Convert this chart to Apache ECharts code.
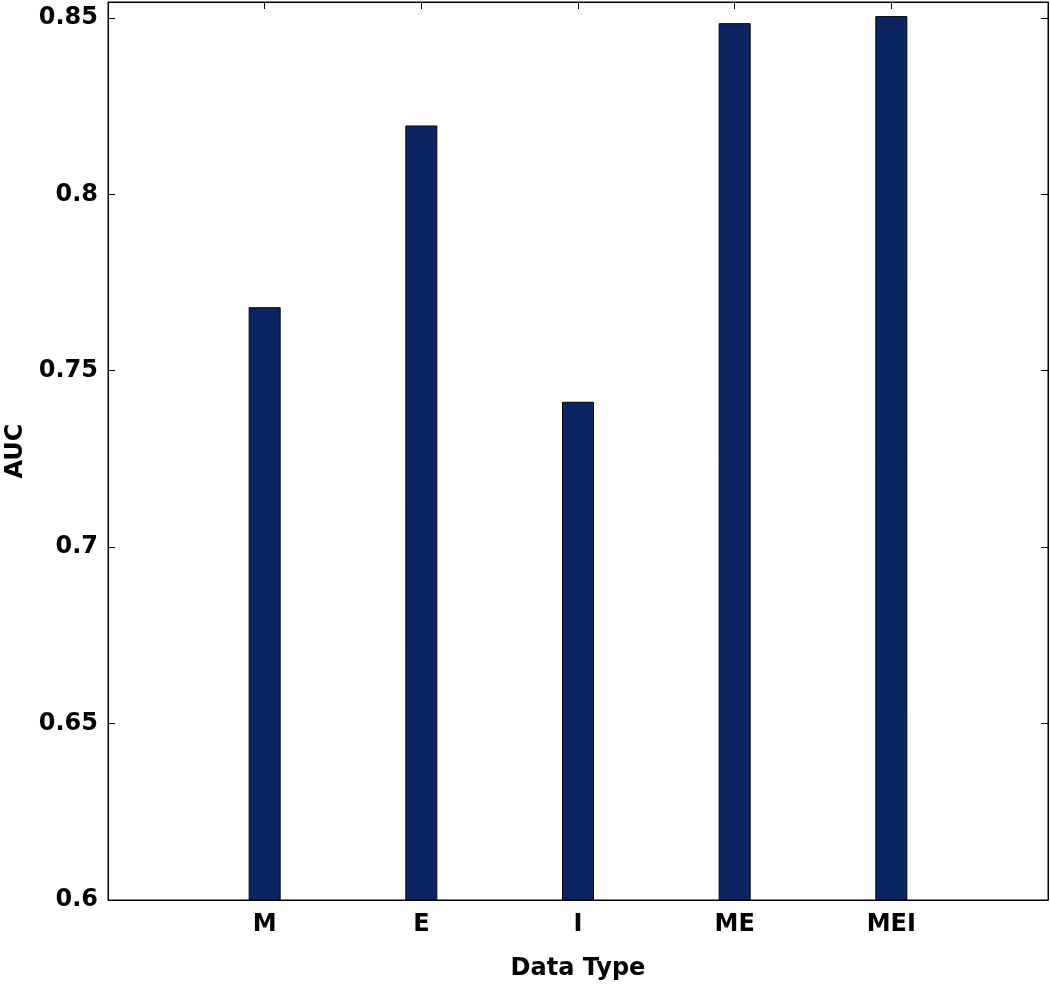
<!DOCTYPE html>
<html>
<head>
<meta charset="utf-8">
<script src="https://cdn.jsdelivr.net/npm/echarts@6/dist/echarts.min.js"></script>
<style>html,body{margin:0;padding:0;background:#fff;}#c{width:1050px;height:988px;}</style>
</head>
<body>
<div id="c"></div>
<script>
var categories = ['', 'M', 'E', 'I', 'ME', 'MEI', ''];
var aucValues = [null, 0.768, 0.8195, 0.7412, 0.8485, 0.8505, null];
var yTickLabels = [0.6, 0.65, 0.7, 0.75, 0.8, 0.85];
var yMin = 0.6, yMax = 0.8545, yInterval = 0.05;

var font = 'DejaVu Sans';
var fs = 24;
var fw = 'bold';
var chart = echarts.init(document.getElementById('c'));
function yFmt(v) {
  for (var i = 0; i < yTickLabels.length; i++) {
    if (Math.abs(v - yTickLabels[i]) < 1e-6) return String(yTickLabels[i]);
  }
  return '';
}
var option = {
  backgroundColor: '#fff',
  animation: false,
  grid: { left: 108, right: 2, top: 2, bottom: 88, show: true, borderColor: '#000', borderWidth: 1,
          backgroundColor: 'transparent', containLabel: false, outerBoundsMode: 'none' },
  xAxis: [{
    type: 'category', data: categories, boundaryGap: false, position: 'bottom',
    name: 'Data Type', nameLocation: 'middle', nameGap: 57,
    nameTextStyle: { fontFamily: font, fontSize: fs, fontWeight: fw, color: '#000' },
    axisLine: { show: true, lineStyle: { color: '#000', width: 1 } },
    axisTick: { show: true, inside: true, length: 7, lineStyle: { color: '#000' } },
    axisLabel: { fontFamily: font, fontSize: fs, fontWeight: fw, color: '#000', margin: 13 },
    splitLine: { show: false }
  }, {
    type: 'category', data: categories, boundaryGap: false, position: 'top',
    axisLine: { show: true, lineStyle: { color: '#000', width: 1 } },
    axisTick: { show: true, inside: true, length: 7, lineStyle: { color: '#000' } },
    axisLabel: { show: false }, splitLine: { show: false }
  }],
  yAxis: [{
    type: 'value', min: yMin, max: yMax, interval: yInterval, position: 'left',
    name: 'AUC', nameLocation: 'middle', nameGap: 80, nameRotate: 90,
    nameTextStyle: { fontFamily: font, fontSize: fs, fontWeight: fw, color: '#000' },
    axisLine: { show: true, lineStyle: { color: '#000', width: 1 } },
    axisTick: { show: true, inside: true, length: 7, lineStyle: { color: '#000' } },
    axisLabel: { fontFamily: font, fontSize: fs, fontWeight: fw, color: '#000', margin: 10, formatter: yFmt },
    splitLine: { show: false }
  }, {
    type: 'value', min: yMin, max: yMax, interval: yInterval, position: 'right',
    axisLine: { show: true, lineStyle: { color: '#000', width: 1 } },
    axisTick: { show: true, inside: true, length: 7, lineStyle: { color: '#000' } },
    axisLabel: { show: false }, splitLine: { show: false }
  }],
  series: [{
    type: 'bar', data: aucValues, barWidth: 32, xAxisIndex: 0, yAxisIndex: 0,
    itemStyle: { color: '#0b2462', borderColor: '#000', borderWidth: 1 }
  }]
};
chart.setOption(option);
</script>
</body>
</html>
